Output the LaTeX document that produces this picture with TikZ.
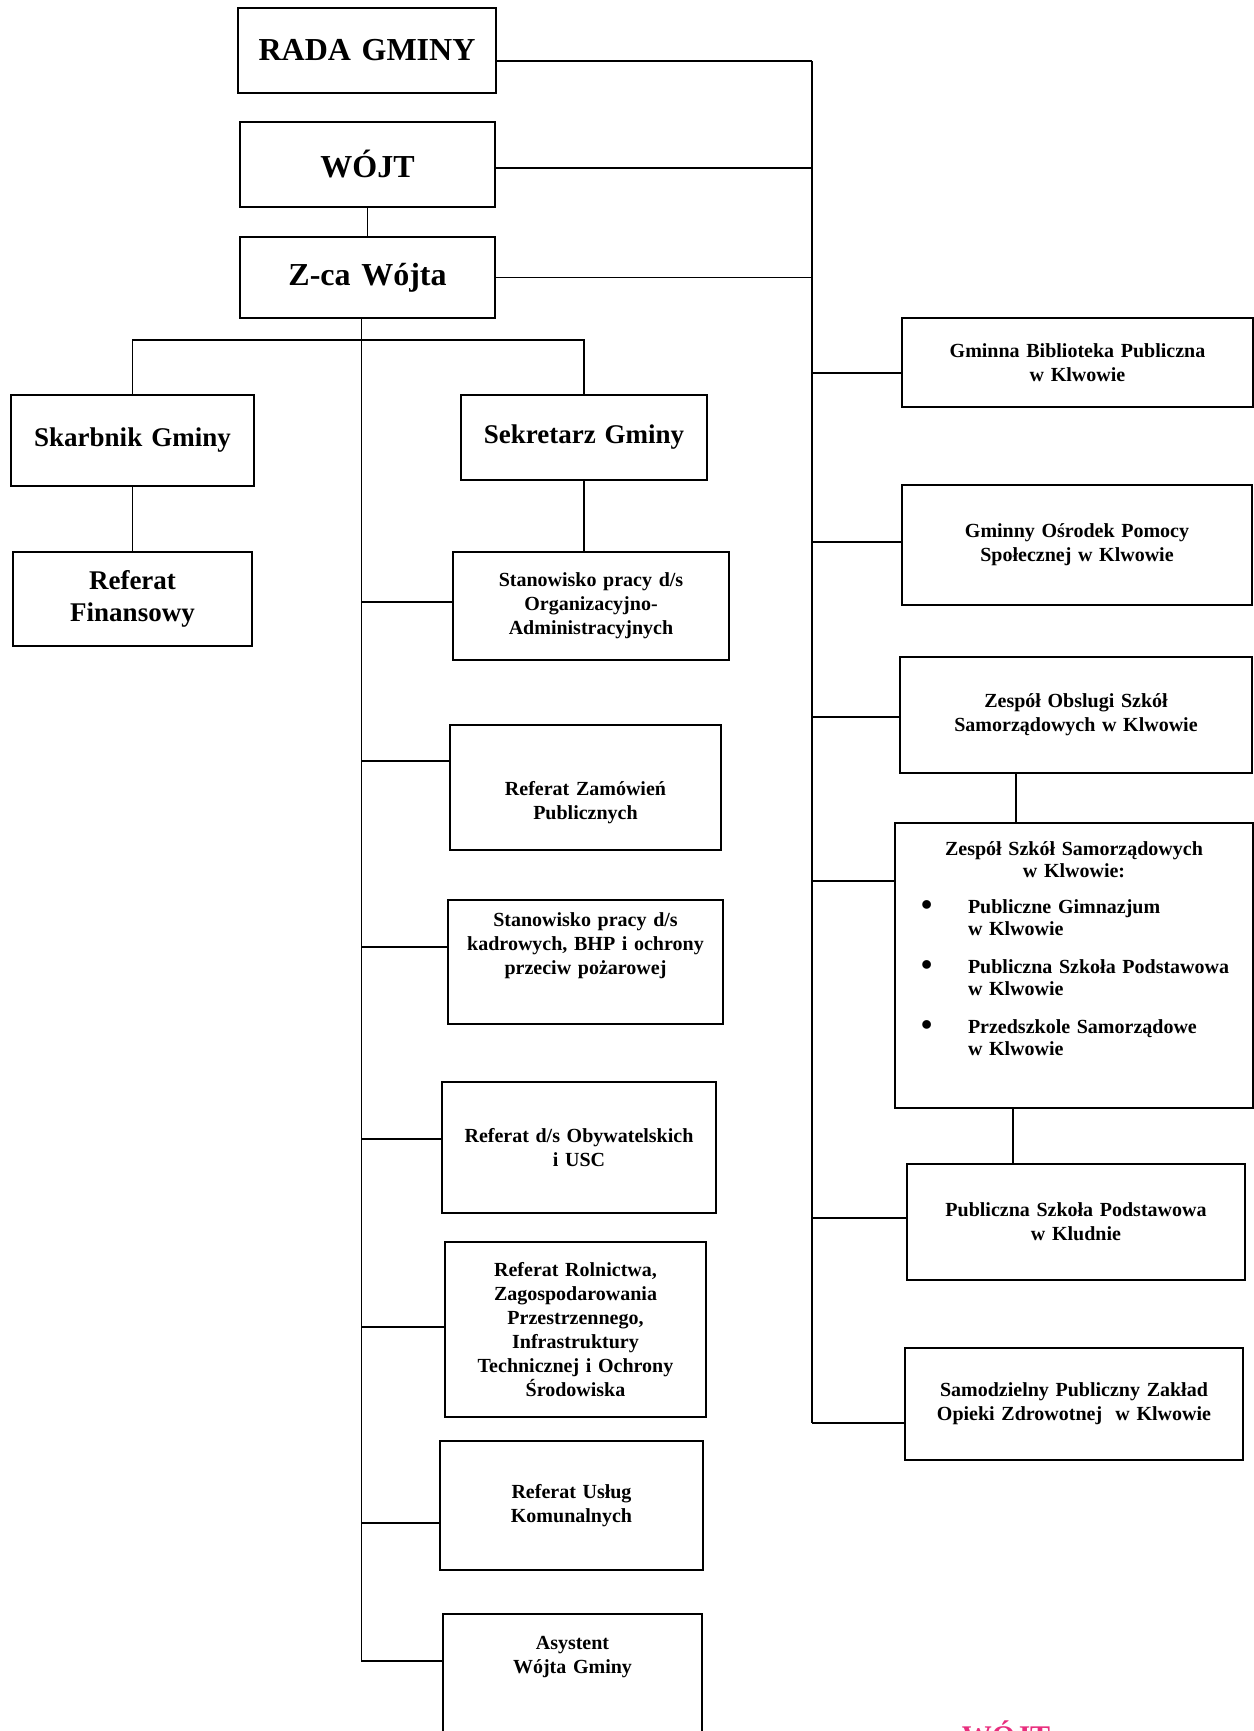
\documentclass[tikz,border=0pt]{standalone}
\usepackage{fontspec}
\setmainfont{Liberation Serif}
\usepackage{xcolor}
\usepackage{tikz}
\usetikzlibrary{positioning}
\definecolor{stampink}{RGB}{232,45,125}

\begin{document}
\begin{tikzpicture}[x=0.5pt,y=-0.5pt,
box/.style={draw,line width=1.3pt,inner sep=0pt,align=center,
  font=\fontsize{10}{12}\selectfont\bfseries},
big/.style={box,font=\fontsize{16}{19}\selectfont\bfseries},
mid/.style={box,font=\fontsize{13.5}{16}\selectfont\bfseries},
dims/.style 2 args={minimum width=#1,text width=#1,minimum height=#2},
link/.style={line width=0.9pt},
stamp/.style={text=stampink,font=\fontsize{15}{18}\selectfont\bfseries,inner sep=0pt}]
\useasboundingbox (0,0) rectangle (1254,1731);
\clip (0,0) rectangle (1254,1731);
\node[big,dims={129pt}{42.5pt}] (rada) at (367,50.5) {RADA GMINY};
\node[big,dims={127.5pt}{42.5pt}] (wojt) at (367.5,164.5) {WÓJT};
\node[big,dims={127.5pt}{40.5pt}] (zca) at (367.5,277.5) {Z-ca Wójta};
\node[mid,dims={121.5pt}{45.5pt}] (skarb) at (132.5,440.5) {Skarbnik Gminy};
\node[mid,dims={119.5pt}{47pt}] (finans) at (132.5,599) {Referat\\Finansowy};
\node[mid,dims={123pt}{42.5pt}] (sekr) at (584,437.5) {Sekretarz Gminy};
\node[box,dims={138pt}{54pt}] (orgadm) at (591,606) {Stanowisko pracy d/s\\Organizacyjno-\\Administracyjnych};
\node[box,dims={135.5pt}{62.5pt}] (zamow) at (585.5,787.5) {\rule{0pt}{22pt}Referat Zamówień\\Publicznych};
\node[box,dims={137.5pt}{62pt}] (kadr) at (585.5,962) {Stanowisko pracy d/s\\kadrowych, BHP i ochrony\\przeciw pożarowej\rule[-18pt]{0pt}{18pt}};
\node[box,dims={137pt}{65.5pt}] (obyw) at (579,1147.5) {Referat d/s Obywatelskich\\i USC};
\node[box,dims={130.5pt}{87.5pt}] (roln) at (575.5,1329.5) {Referat Rolnictwa,\\Zagospodarowania\\Przestrzennego,\\Infrastruktury\\Technicznej i Ochrony\\Środowiska};
\node[box,dims={131.5pt}{64.5pt}] (uslug) at (571.5,1505.5) {Referat Usług\\Komunalnych};
\node[box,dims={129.5pt}{96pt}] (asyst) at (572.5,1710) {Asystent\\Wójta Gminy\rule[-55pt]{0pt}{55pt}};
\node[box,dims={175.5pt}{44.5pt}] (bibl) at (1077.5,362.5) {Gminna Biblioteka Publiczna\\w Klwowie};
\node[box,dims={175pt}{60pt}] (gops) at (1077,545) {Gminny Ośrodek Pomocy\\Społecznej w Klwowie};
\node[box,dims={176pt}{58pt}] (zoss) at (1076,715) {Zespół Obslugi Szkół\\Samorządowych w Klwowie};
\node[box,dims={179pt}{142.5pt},align=left,font=\fontsize{10}{11}\selectfont\bfseries] (zss) at (1074,965.5) {%
{\centering Zespół Szkół Samorządowych\\w Klwowie:\par}
\vspace{7pt}\noindent
\begin{tabular}[t]{@{\hspace{13pt}}l@{}l@{}}
\makebox[23.5pt][l]{\raisebox{-1pt}{\fontsize{16}{11}\selectfont\textbullet}} & Publiczne Gimnazjum\\
 & w Klwowie\\[8pt]
\makebox[23.5pt][l]{\raisebox{-1pt}{\fontsize{16}{11}\selectfont\textbullet}} & Publiczna Szkoła Podstawowa\\
 & w Klwowie\\[8pt]
\makebox[23.5pt][l]{\raisebox{-1pt}{\fontsize{16}{11}\selectfont\textbullet}} & Przedszkole Samorządowe\\
 & w Klwowie\rule[-16.5pt]{0pt}{16.5pt}
\end{tabular}};
\node[box,dims={169pt}{58pt}] (kludn) at (1076,1222) {Publiczna Szkoła Podstawowa\\w Kludnie};
\node[box,dims={169pt}{56pt}] (spzoz) at (1074,1404) {Samodzielny Publiczny Zakład\\Opieki Zdrowotnej\ \ w Klwowie};
\node[stamp,anchor=base] (stamp) at (1006,1746) {WÓJT};
\coordinate (rtop) at (812,61);
\coordinate (rbot) at (812,1423);
\coordinate (ltop) at ([xshift=-3pt]zca.south);
\coordinate (bar) at (0,340);
\draw[link] (rtop) -- (rbot);
\foreach \n/\s in {rada/-5.25pt,wojt/-1.75pt,zca/0pt}{
  \coordinate (\n-r) at ([yshift=\s]\n.east);
  \draw[link] (\n-r) -- (\n-r -| rtop);
}
\foreach \n/\s in {bibl/-5.25pt,gops/1.5pt,zoss/-1pt,zss/42.25pt,kludn/2pt,spzoz/-9.5pt}{
  \coordinate (\n-l) at ([yshift=\s]\n.west);
  \draw[link] (\n-l) -- (\n-l -| rtop);
}
\foreach \n/\s in {orgadm/2pt,zamow/13.25pt,kadr/7.5pt,obyw/4.25pt,roln/1.25pt,uslug/-8.75pt}{
  \coordinate (\n-l) at ([yshift=\s]\n.west);
  \draw[link] (\n-l) -- (\n-l -| ltop);
}
\coordinate (asyst-l) at ([yshift=24.5pt]asyst.west);
\draw[link] (ltop) |- (asyst-l);
\draw[link] (wojt.south) -- (zca.north);
\draw[link] (skarb.north) |- (bar -| sekr.north) -- (sekr.north);
\draw[link] (skarb.south) -- (finans.north);
\draw[link] (sekr.south) -- (sekr.south |- orgadm.north);
\coordinate (zoss-b) at ([xshift=-30pt]zoss.south);
\draw[link] (zoss-b) -- (zoss-b |- zss.north);
\coordinate (zss-b) at ([xshift=-30.5pt]zss.south);
\draw[link] (zss-b) -- (zss-b |- kludn.north);
\end{tikzpicture}
\end{document}
